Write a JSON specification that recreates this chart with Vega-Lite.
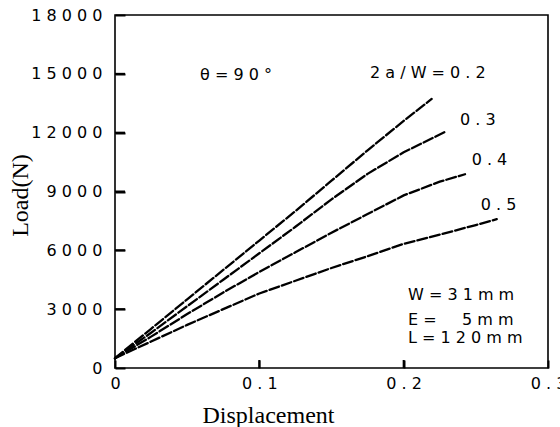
{
  "$schema": "https://vega.github.io/schema/vega-lite/v6.json",
  "width": 433,
  "height": 353,
  "autosize": {"type": "none"},
  "padding": {"left": 115, "top": 15, "right": 12, "bottom": 59},
  "background": "white",
  "config": {
    "view": {"stroke": "#000", "strokeWidth": 1.6},
    "axis": {
      "grid": false,
      "domain": false,
      "tickColor": "#000",
      "tickWidth": 2,
      "labelColor": "#000",
      "labelFont": "DejaVu Sans",
      "labelFontSize": 16,
      "titleColor": "#000",
      "titleFont": "Liberation Serif",
      "titleFontSize": 24,
      "titleFontWeight": "normal"
    }
  },
  "datasets": {
    "curves": [
      {"ratio": "0.2", "disp": 0, "load": 500},
      {"ratio": "0.2", "disp": 0.025, "load": 2000},
      {"ratio": "0.2", "disp": 0.05, "load": 3500},
      {"ratio": "0.2", "disp": 0.075, "load": 5000},
      {"ratio": "0.2", "disp": 0.1, "load": 6500},
      {"ratio": "0.2", "disp": 0.125, "load": 8000},
      {"ratio": "0.2", "disp": 0.15, "load": 9550},
      {"ratio": "0.2", "disp": 0.175, "load": 11100},
      {"ratio": "0.2", "disp": 0.2, "load": 12600},
      {"ratio": "0.2", "disp": 0.2194, "load": 13720},
      {"ratio": "0.3", "disp": 0, "load": 500},
      {"ratio": "0.3", "disp": 0.025, "load": 1800},
      {"ratio": "0.3", "disp": 0.05, "load": 3150},
      {"ratio": "0.3", "disp": 0.075, "load": 4500},
      {"ratio": "0.3", "disp": 0.1, "load": 5850},
      {"ratio": "0.3", "disp": 0.125, "load": 7200},
      {"ratio": "0.3", "disp": 0.15, "load": 8600},
      {"ratio": "0.3", "disp": 0.175, "load": 9900},
      {"ratio": "0.3", "disp": 0.2, "load": 11000},
      {"ratio": "0.3", "disp": 0.2282, "load": 12020},
      {"ratio": "0.4", "disp": 0, "load": 500},
      {"ratio": "0.4", "disp": 0.025, "load": 1600},
      {"ratio": "0.4", "disp": 0.05, "load": 2750},
      {"ratio": "0.4", "disp": 0.075, "load": 3850},
      {"ratio": "0.4", "disp": 0.1, "load": 4900},
      {"ratio": "0.4", "disp": 0.125, "load": 5900},
      {"ratio": "0.4", "disp": 0.15, "load": 6900},
      {"ratio": "0.4", "disp": 0.175, "load": 7850},
      {"ratio": "0.4", "disp": 0.2, "load": 8800},
      {"ratio": "0.4", "disp": 0.225, "load": 9500},
      {"ratio": "0.4", "disp": 0.2425, "load": 9880},
      {"ratio": "0.5", "disp": 0, "load": 500},
      {"ratio": "0.5", "disp": 0.025, "load": 1350},
      {"ratio": "0.5", "disp": 0.05, "load": 2200},
      {"ratio": "0.5", "disp": 0.075, "load": 3000},
      {"ratio": "0.5", "disp": 0.1, "load": 3800},
      {"ratio": "0.5", "disp": 0.125, "load": 4450},
      {"ratio": "0.5", "disp": 0.15, "load": 5100},
      {"ratio": "0.5", "disp": 0.175, "load": 5700},
      {"ratio": "0.5", "disp": 0.2, "load": 6330},
      {"ratio": "0.5", "disp": 0.225, "load": 6800},
      {"ratio": "0.5", "disp": 0.25, "load": 7290},
      {"ratio": "0.5", "disp": 0.2645, "load": 7590}
    ],
    "xticks": [
      {"disp": 0.1, "load": 0},
      {"disp": 0.2, "load": 0}
    ],
    "yticks": [
      {"disp": 0, "load": 3000},
      {"disp": 0, "load": 6000},
      {"disp": 0, "load": 9000},
      {"disp": 0, "load": 12000},
      {"disp": 0, "load": 15000}
    ],
    "notes": [
      {"label": "θ=90°", "disp": 0.0589, "load": 14940},
      {"label": "2a/W=0.2", "disp": 0.1767, "load": 15040},
      {"label": "0.3", "disp": 0.239, "load": 12646},
      {"label": "0.4", "disp": 0.2471, "load": 10606},
      {"label": "0.5", "disp": 0.2534, "load": 8311},
      {"label": "W=31mm", "disp": 0.203, "load": 3722},
      {"label": "E=\u00a0\u00a05mm", "disp": 0.203, "load": 2448},
      {"label": "L=120mm", "disp": 0.203, "load": 1530}
    ]
  },
  "encoding": {
    "x": {
      "field": "disp",
      "type": "quantitative",
      "scale": {"domain": [0, 0.3], "nice": false, "zero": false},
      "axis": {
        "title": "Displacement",
        "values": [0, 0.1, 0.2, 0.3],
        "format": ".1~f",
        "labelExpr": "join(split(datum.label, ''), ' ')",
        "labelFlush": false,
        "tickSize": -8,
        "labelPadding": 15,
        "titleX": 153,
        "titleY": 54,
        "titleBaseline": "alphabetic"
      }
    },
    "y": {
      "field": "load",
      "type": "quantitative",
      "scale": {"domain": [0, 18000], "nice": false},
      "axis": {
        "title": "Load(N)",
        "values": [0, 3000, 6000, 9000, 12000, 15000, 18000],
        "format": "d",
        "labelExpr": "join(split(datum.label, ''), ' ')",
        "tickSize": -10,
        "labelPadding": 23,
        "titleX": -88,
        "titleY": 180,
        "titleBaseline": "alphabetic",
        "titleAlign": "center"
      }
    }
  },
  "layer": [
    {
      "data": {"name": "xticks"},
      "mark": {"type": "tick", "orient": "vertical", "size": 16, "thickness": 2, "color": "#000", "opacity": 1, "clip": true}
    },
    {
      "data": {"name": "yticks"},
      "mark": {"type": "tick", "orient": "horizontal", "size": 20, "thickness": 2, "color": "#000", "opacity": 1, "clip": true}
    },
    {
      "data": {"name": "curves"},
      "mark": {
        "type": "line",
        "stroke": "#000",
        "strokeWidth": 2.3,
        "strokeDash": [10, 3],
        "strokeCap": "round"
      },
      "encoding": {
        "detail": {"field": "ratio"},
        "order": {"field": "disp", "type": "quantitative"}
      }
    },
    {
      "data": {"name": "notes"},
      "mark": {
        "type": "text",
        "align": "left",
        "baseline": "middle",
        "font": "DejaVu Sans",
        "fontSize": 16,
        "color": "#000",
        "text": {"expr": "join(split(datum.label, ''), ' ')"}
      }
    }
  ]
}
